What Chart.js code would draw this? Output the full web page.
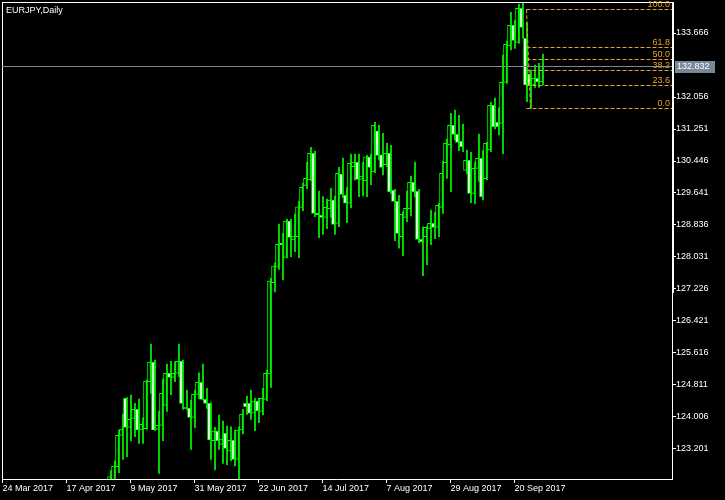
<!DOCTYPE html>
<html>
<head>
<meta charset="utf-8">
<script src="https://cdn.jsdelivr.net/npm/chart.js@4"></script>
<style>
  html, body { margin: 0; padding: 0; background: #000; }
  canvas { display: block; }
</style>
</head>
<body>
<canvas id="chart" width="725" height="500"></canvas>
<script>

// bar 0 = 24 Mar 2017, one bar per trading day; bars before firstBar sit below the visible range
const tickBars = [0, 16, 32, 48, 64, 80, 96, 112, 128];
const tickLabels = ['24 Mar 2017', '17 Apr 2017', '9 May 2017', '31 May 2017', '22 Jun 2017',
                    '14 Jul 2017', '7 Aug 2017', '29 Aug 2017', '20 Sep 2017'];
const priceTicks = [123.201, 124.006, 124.811, 125.616, 126.421, 127.226, 128.031,
                    128.836, 129.641, 130.446, 131.251, 132.056, 133.666];
const firstBar = 27;

const open = [
  122.270,122.345,122.755,123.545,124.476,123.746,123.973,124.199,123.678,123.711,
  124.894,125.389,123.696,123.797,124.300,125.105,125.004,125.105,125.407,124.232,
  124.224,123.998,124.576,124.878,124.451,124.350,123.409,123.653,123.319,123.595,
  123.143,123.419,122.941,123.678,124.350,124.350,124.099,124.408,124.149,124.451,
  125.087,127.384,127.772,128.375,128.023,128.936,128.458,128.541,129.281,129.834,
  129.968,130.639,129.130,129.080,129.029,129.246,129.465,128.878,130.119,129.583,
  129.382,130.302,130.421,129.985,129.950,130.554,130.169,131.208,130.604,130.353,
  130.639,129.709,129.432,128.541,129.029,129.246,129.910,129.683,128.476,128.541,
  128.753,128.878,128.778,129.281,130.403,130.856,131.344,131.117,130.941,130.212,
  130.463,129.633,130.262,130.514,130.000,130.722,131.847,131.419,131.394,132.426,
  133.339,133.860,133.432,134.287,133.533,132.634,132.358,132.526,132.433
];
const high = [
  122.655,122.899,123.678,124.081,124.496,124.559,124.350,124.458,123.988,124.936,
  125.842,125.439,124.156,124.961,125.339,125.407,125.397,125.842,125.439,124.685,
  124.433,124.685,125.120,125.339,124.727,124.365,123.746,124.056,123.905,123.779,
  123.761,123.678,123.761,124.199,124.534,124.685,124.476,124.476,124.727,125.188,
  127.495,127.887,128.861,128.627,128.987,128.979,129.112,129.439,129.885,130.413,
  130.790,130.690,129.691,129.548,129.490,129.759,129.565,130.287,130.521,129.784,
  130.622,130.622,130.622,130.413,130.589,130.622,131.419,131.344,131.143,130.891,
  130.841,129.734,129.583,129.170,129.691,130.068,130.421,129.734,128.793,128.811,
  129.213,129.163,129.382,130.438,130.999,131.646,131.729,131.595,131.377,130.722,
  130.665,130.413,131.125,130.705,130.916,131.922,132.031,131.787,133.112,133.465,
  134.187,133.993,134.395,134.428,133.925,132.735,132.861,132.904,133.138
];
const low = [
  122.119,122.244,122.604,122.941,123.007,123.402,123.510,123.344,123.344,123.696,
  124.602,123.666,122.589,123.409,124.149,124.566,124.894,125.019,124.199,124.199,
  123.193,123.736,124.476,124.433,124.224,122.941,122.672,123.193,122.841,122.805,
  122.906,122.773,122.421,123.578,124.073,123.948,123.661,123.862,124.056,124.416,
  124.753,127.150,127.721,127.452,128.005,128.038,128.164,128.013,129.195,129.749,
  129.950,129.044,128.516,128.602,128.743,129.029,128.602,128.793,129.522,128.894,
  129.263,129.968,129.548,129.565,129.548,129.850,130.151,130.471,130.094,130.302,
  129.633,128.441,128.250,128.063,128.919,129.062,129.533,128.390,127.560,127.837,
  128.340,128.491,128.541,129.130,130.005,129.673,130.974,130.705,130.680,130.119,
  129.397,129.371,129.935,129.465,129.968,130.680,131.251,131.100,130.629,132.400,
  133.238,133.281,133.407,133.533,131.938,131.772,132.300,132.300,132.358
];
const close = [
  122.504,122.773,123.545,123.704,123.746,123.948,124.199,123.678,123.822,124.911,
  125.389,123.678,123.797,124.602,125.105,125.004,125.105,125.407,124.350,124.219,
  123.998,124.576,124.878,124.451,124.350,123.427,123.653,123.409,123.452,123.218,
  123.419,122.941,123.678,124.073,124.265,124.099,124.408,124.156,124.476,125.105,
  127.427,127.804,128.350,128.340,128.936,128.526,128.559,129.296,129.784,130.011,
  130.639,129.130,129.095,129.029,129.281,129.465,128.853,130.136,129.608,129.382,
  130.388,130.421,129.985,130.068,130.554,130.287,131.344,130.589,130.287,130.639,
  129.673,129.432,128.627,129.105,129.256,129.910,129.673,128.476,128.416,128.778,
  128.878,128.778,129.331,130.136,130.891,131.344,131.117,130.916,130.805,130.463,
  129.633,130.262,130.514,129.548,130.891,131.847,131.309,131.309,132.426,133.382,
  133.860,133.482,134.287,133.809,132.358,132.358,132.526,132.433,132.832
];

// fibonacci retracement drawn from bar 131 (100) to bar 132 (0)
const fibLevels = [0, 23.6, 38.2, 50, 61.8, 100];
const fibLabels = ['0.0', '23.6', '38.2', '50.0', '61.8', '100.0'];
const fibHigh = 134.262;
const fibLow = 131.772;
const fibBars = [131, 132];

const font = { family: '"Liberation Sans", Arial, sans-serif', size: 9 };
const fontStr = '9px "Liberation Sans", Arial, sans-serif';
const lime = '#00ff00';
const fibColor = '#e6a528';
const bidColor = '#778899';

const wicks = low.map((l, i) => ({ x: firstBar + i, y: [l, high[i]] }));
const bodies = open.map((o, i) => ({ x: firstBar + i, y: [o, close[i]] }));

const overlay = {
  id: 'overlay',
  afterDraw(chart) {
    const { ctx, chartArea: a, scales: { x, y } } = chart;
    ctx.save();

    // window frame
    ctx.fillStyle = '#fff';
    ctx.fillRect(a.left, a.top, a.right - a.left, 1);
    ctx.fillRect(a.left, a.top, 1, a.bottom - a.top);
    ctx.fillRect(a.right + 1, a.top, 1, 291);

    ctx.font = fontStr;
    ctx.textBaseline = 'alphabetic';
    ctx.textAlign = 'left';
    ctx.fillText('EURJPY,Daily', 6, 13);

    // bid line
    const last = close[close.length - 1];
    const by = Math.round(y.getPixelForValue(last));
    ctx.fillStyle = bidColor;
    ctx.fillRect(a.left, by, a.right - a.left, 1);

    // fibo levels
    ctx.strokeStyle = fibColor;
    ctx.fillStyle = fibColor;
    ctx.lineWidth = 1;
    ctx.setLineDash([4, 2]);
    const fx = x.getPixelForValue(fibBars[0]);
    fibLevels.forEach((lv, i) => {
      const p = fibLow + (fibHigh - fibLow) * lv / 100;
      const py = Math.round(y.getPixelForValue(p)) + 0.5;
      ctx.beginPath();
      ctx.moveTo(fx, py);
      ctx.lineTo(a.right, py);
      ctx.stroke();
      ctx.textAlign = 'right';
      ctx.fillText(fibLabels[i], a.right - 2, py - 3);
    });
    ctx.beginPath();
    ctx.moveTo(fx, y.getPixelForValue(fibHigh));
    ctx.lineTo(x.getPixelForValue(fibBars[1]), y.getPixelForValue(fibLow));
    ctx.stroke();
    ctx.setLineDash([]);

    // price tag
    ctx.fillStyle = bidColor;
    ctx.fillRect(a.right + 3, by - 5, 40, 12);
    ctx.fillStyle = '#fff';
    ctx.textAlign = 'left';
    ctx.textBaseline = 'middle';
    ctx.fillText(last.toFixed(3), a.right + 5, by + 1);

    ctx.restore();
  }
};

new Chart(document.getElementById('chart'), {
  type: 'bar',
  data: {
    datasets: [
      {
        label: 'body',
        data: bodies,
        order: 0,
        barThickness: 3,
        minBarLength: 1,
        borderWidth: 1,
        borderSkipped: false,
        borderColor: lime,
        backgroundColor: open.map((o, i) => close[i] < o ? '#ffffff' : '#000000')
      },
      {
        label: 'wick',
        data: wicks,
        order: 1,
        barThickness: 1,
        borderWidth: 0,
        backgroundColor: lime
      }
    ]
  },
  options: {
    responsive: false,
    animation: false,
    layout: { padding: { left: 2, top: 2, right: 0, bottom: 0 } },
    plugins: {
      legend: { display: false },
      title: { display: false },
      tooltip: { enabled: false }
    },
    scales: {
      x: {
        type: 'linear',
        position: 'bottom',
        offset: false,
        min: -0.125,
        max: 167.375,
        bounds: 'data',
        afterFit: (s) => {
          s.height = 21;
          s.paddingLeft = 0;
          s.paddingRight = 0;
        },
        afterBuildTicks: (s) => { s.ticks = tickBars.map(v => ({ value: v })); },
        ticks: {
          callback: (v) => tickLabels[tickBars.indexOf(v)],
          color: '#fff',
          font: font,
          padding: 0,
          maxRotation: 0,
          autoSkip: false,
          align: 'start'
        },
        grid: { offset: false, drawOnChartArea: false, color: '#fff', tickLength: 4 },
        border: { color: '#fff' }
      },
      y: {
        type: 'linear',
        position: 'right',
        min: 122.446,
        max: 134.446,
        bounds: 'data',
        afterFit: (s) => {
          s.width = 53;
          s.paddingTop = 0;
          s.paddingBottom = 0;
        },
        afterBuildTicks: (s) => { s.ticks = priceTicks.map(v => ({ value: v })); },
        ticks: {
          callback: (v) => v.toFixed(3),
          color: '#fff',
          font: font,
          padding: 0
        },
        grid: { drawOnChartArea: false, color: '#fff', tickLength: 4 },
        border: { color: '#fff' }
      }
    }
  },
  plugins: [overlay]
});
</script>
</body>
</html>
